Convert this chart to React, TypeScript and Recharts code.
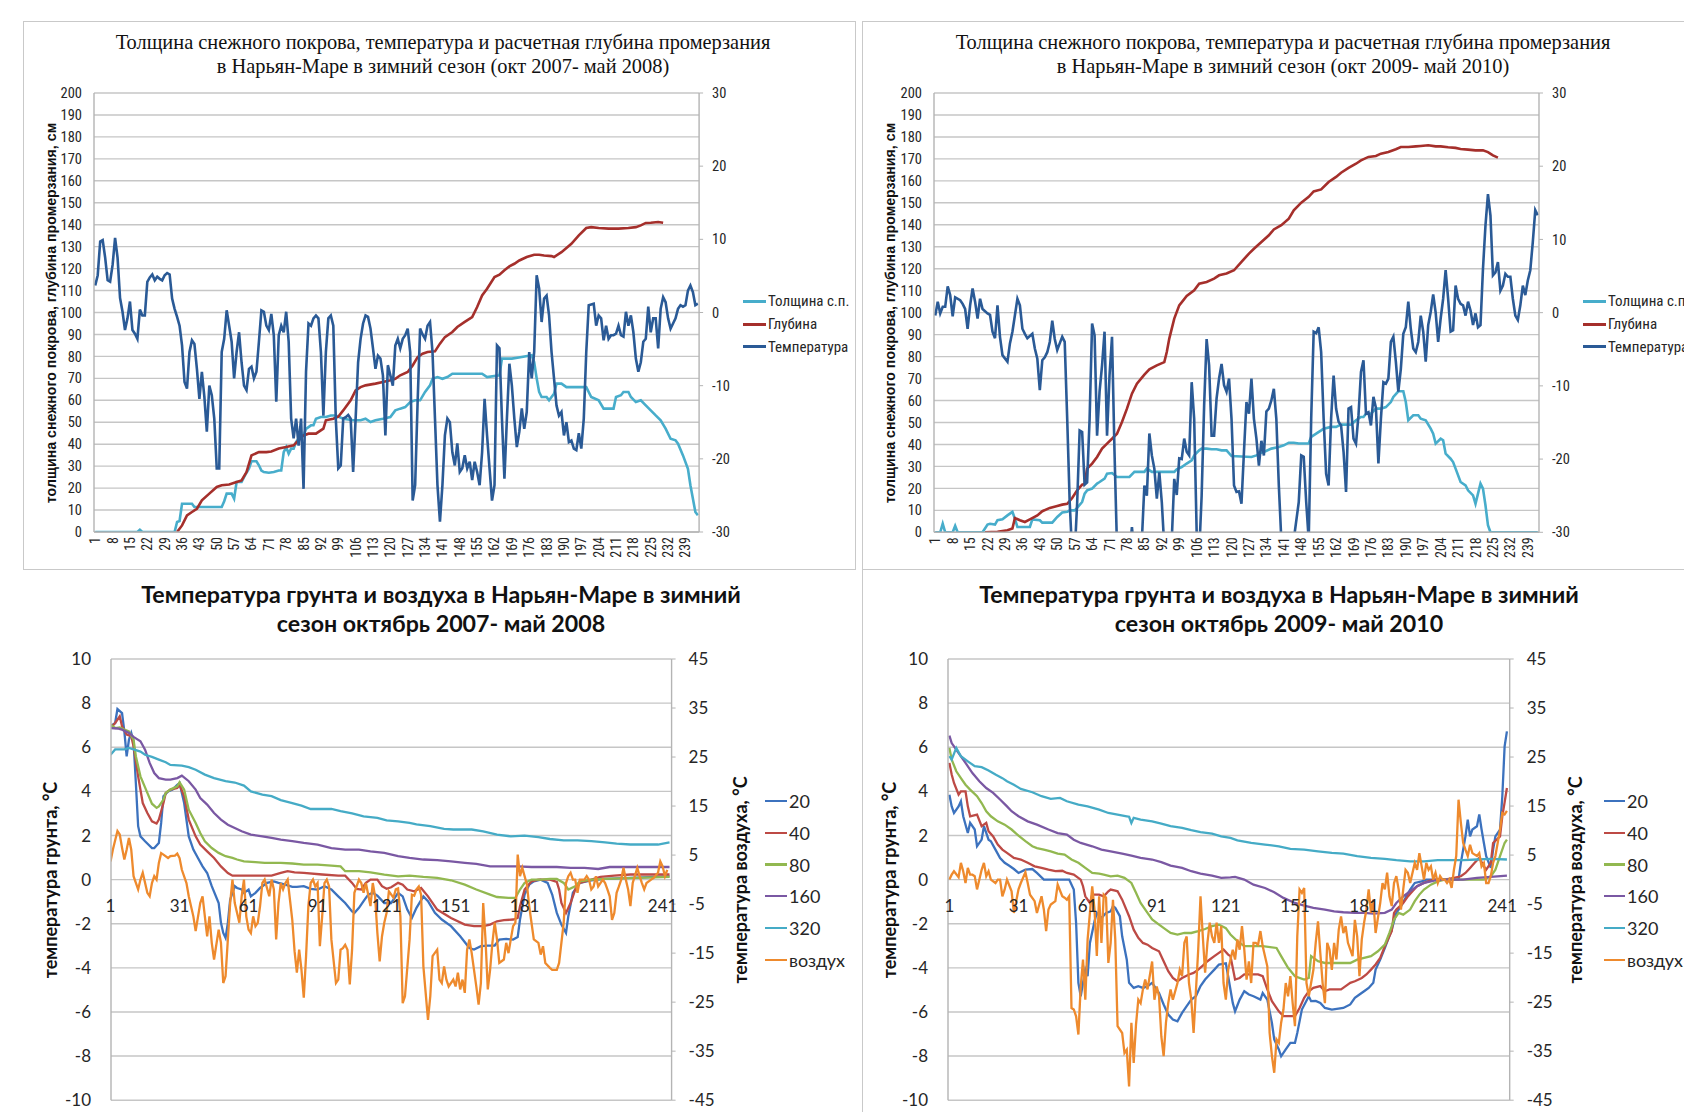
import React from 'react';
import { LineChart, Line, XAxis, YAxis, CartesianGrid, ReferenceDot } from 'recharts';

type Pt = [number, number];

// ---------------- axis / tick labels ----------------
const topDayTicks = [1, 8, 15, 22, 29, 36, 43, 50, 57, 64, 71, 78, 85, 92, 99, 106, 113, 120, 127, 134, 141, 148, 155, 162, 169, 176, 183, 190, 197, 204, 211, 218, 225, 232, 239];
const bottomDayTicks = [1, 31, 61, 91, 121, 151, 181, 211, 241];
const cmTicks = [0, 10, 20, 30, 40, 50, 60, 70, 80, 90, 100, 110, 120, 130, 140, 150, 160, 170, 180, 190, 200];
const airTicksTop = [-30, -20, -10, 0, 10, 20, 30];
const groundTicks = [-10, -8, -6, -4, -2, 0, 2, 4, 6, 8, 10];
const airTicksBottom = [-45, -35, -25, -15, -5, 5, 15, 25, 35, 45];

const topNames = ['Толщина с.п.', 'Глубина', 'Температура'];
const bottomNames = ['20', '40', '80', '160', '320', 'воздух'];

const titleTL = ['Толщина снежного покрова, температура и расчетная глубина промерзания', 'в Нарьян-Маре в зимний сезон (окт 2007- май 2008)'];
const titleTR = ['Толщина снежного покрова, температура и расчетная глубина промерзания', 'в Нарьян-Маре в зимний сезон (окт 2009- май 2010)'];
const titleBL = ['Температура грунта и воздуха в Нарьян-Маре в зимний', 'сезон октябрь 2007- май 2008'];
const titleBR = ['Температура грунта и воздуха в Нарьян-Маре в зимний', 'сезон октябрь 2009- май 2010'];
const topAxisTitle = 'толщина снежного покрова, глубина промерзания, см';
const groundAxisTitle = 'температура грунта, °C';
const airAxisTitle = 'температура воздуха, °C';

// ---------------- 2007-2008: snow, depth, air temperature ----------------
const snow0708: Pt[] = [[1,0],[18,0],[19,1],[20,0],[33,0],[34,4.6],[35,5],[36,12.9],[38,12.9],[40,12.9],[41,11.4],[52,11.4],[53,14],[54,17.5],[56,17.5],[57,15.2],[58,22.8],[60,22.8],[61,25],[62,27],[63,28.9],[64,32.2],[66,32.2],[67,30.4],[68,28],[69,27.3],[71,27],[73,27.3],[75,28],[76,28],[77,36.4],[78,38.7],[79,35.7],[80,38],[81,38],[82,41],[83,42.5],[85,44],[86,47],[88,48.6],[89,48.6],[90,51.6],[92,52.4],[94,52.4],[96,53.1],[98,53.1],[101,51.6],[105,50.9],[108,50.9],[110,51.6],[112,50.1],[114,50.9],[117,51.6],[120,52.4],[122,55.4],[124,56.2],[126,56.9],[128,59.2],[130,60],[132,60],[134,63.8],[136,66.8],[137,69.8],[139,70.6],[141,69.8],[143,70.6],[145,72.1],[157,72.1],[159,70.6],[164,71.4],[165,79],[169,79],[173,79.7],[177,80.5],[178,77.4],[179,70],[180,63.8],[181,61.5],[183,61.5],[184,60],[186,63],[187,67.6],[189,67.6],[191,66],[199,66],[201,61.5],[204,60],[206,56.2],[210,56.2],[211,61.5],[213,62.3],[214,63.8],[216,63.8],[217,61.5],[219,59.2],[221,60],[223,57.7],[225,55.4],[227,53.1],[229,50.9],[231,47.1],[233,42.5],[235,41.8],[236,40.2],[238,34.9],[240,28.8],[241,21.3],[243,9.1],[244,7.6]];

const depth0708: Pt[] = [[34,0],[36,3],[38,7.6],[40,9.1],[42,10.6],[44,14.4],[47,17.5],[50,20.5],[52,21.3],[55,21.6],[58,22.8],[60,23.5],[62,27.3],[64,34.9],[67,36.4],[70,36.4],[72,36.7],[75,38],[78,38.7],[81,39.5],[83,41.8],[85,44],[87,44.8],[90,44.8],[93,47.1],[94,50.9],[97,51.6],[99,52.5],[101,55.4],[104,60],[106,64.5],[108,66],[110,66.8],[114,67.6],[117,68.3],[120,69.1],[122,69.8],[124,71.4],[127,72.9],[129,75.9],[131,79.7],[133,81.2],[135,82],[138,82.3],[140,85.8],[142,88.8],[145,91.1],[147,93.4],[150,95.7],[153,97.9],[155,102.5],[157,107.8],[159,110.8],[162,116.2],[164,117.2],[166,119.2],[168,121],[170,122.2],[172,123.7],[175,125.3],[178,126.3],[180,126.3],[182,126],[185,125.7],[186,125.3],[189,127.5],[193,131.3],[196,135.1],[199,138.5],[201,138.9],[204,138.5],[208,138.2],[212,138.2],[216,138.5],[219,138.9],[221,139.7],[223,140.8],[225,140.9],[228,141.2],[230,140.9]];

const temp0708: Pt[] = [[1,3.7],[2,5.1],[3,9.7],[4,9.9],[5,7.5],[6,4.4],[7,4.2],[8,6.5],[9,10.2],[10,7.5],[11,2],[12,0.1],[13,-2.4],[14,-0.8],[15,1.5],[16,-2.4],[17,-2.9],[18,-3.6],[19,0.4],[20,-0.4],[21,-0.4],[22,4.2],[23,4.8],[24,5.2],[25,4.4],[26,4.9],[27,4.6],[28,4.4],[29,5.1],[30,5.4],[31,5.2],[32,1.9],[33,0.5],[34,-0.6],[35,-1.8],[36,-4.5],[37,-9.5],[38,-10.4],[39,-5.4],[40,-3.8],[41,-4.3],[42,-7.7],[43,-11.8],[44,-8.1],[45,-11.5],[46,-16.3],[47,-10],[48,-11.3],[49,-14.5],[50,-21.3],[51,-21.3],[52,-5.4],[53,-3.6],[54,0.3],[55,-1.8],[56,-4],[57,-9],[58,-5.4],[59,-2.7],[60,-6.8],[61,-10],[62,-10.6],[63,-7.7],[64,-7.4],[65,-9],[66,-8.1],[67,-4],[68,0.3],[69,0.1],[70,-1.8],[71,-2.4],[72,-0.2],[73,-3.1],[74,-12.2],[75,-3.1],[76,-1.8],[77,-2.7],[78,0.1],[79,-4],[80,-14.5],[81,-17.2],[82,-14.5],[83,-18.2],[84,-14.5],[85,-24.1],[86,-8.1],[87,-1.5],[88,-1.8],[89,-0.8],[90,-0.4],[91,-0.8],[92,-5.4],[93,-14.1],[94,-5.4],[95,-0.8],[96,-0.4],[97,-1.8],[98,-14.5],[99,-21.3],[100,-20.9],[101,-14.5],[102,-14.3],[103,-14],[104,-14.5],[105,-21.8],[106,-14.5],[107,-6.8],[108,-3.6],[109,-1.5],[110,-0.4],[111,-0.6],[112,-2.2],[113,-4.9],[114,-7.7],[115,-5.9],[116,-6.3],[117,-8.6],[118,-16.8],[119,-7.2],[120,-8.6],[121,-10],[122,-4.5],[123,-3.6],[124,-4.9],[125,-3.6],[126,-3.1],[127,-2.2],[128,-5.4],[129,-25.7],[130,-23.6],[131,-12.2],[132,-2.2],[133,-3],[134,-3.6],[135,-1.8],[136,-1.3],[137,-5.4],[138,-14.5],[139,-23.6],[140,-28.6],[141,-23.6],[142,-16.8],[143,-14.5],[144,-15],[145,-19.1],[146,-20.9],[147,-17.9],[148,-21.8],[149,-21.3],[150,-19.5],[151,-21.3],[152,-20.4],[153,-22.9],[154,-20.4],[155,-21.8],[156,-23.6],[157,-19.1],[158,-11.8],[159,-16.8],[160,-21.3],[161,-25.7],[162,-23.6],[163,-4.5],[164,-4.9],[165,-14.5],[166,-22.7],[167,-14.5],[168,-7],[169,-10],[170,-14.5],[171,-18.4],[172,-16.3],[173,-13.1],[174,-15.9],[175,-13.6],[176,-5.4],[177,-9],[178,-5.4],[179,5.1],[180,3.3],[181,-1.3],[182,1.9],[183,2.3],[184,-0.4],[185,-5.4],[186,-9],[187,-12.7],[188,-14.1],[189,-13.6],[190,-16.8],[191,-15],[192,-17.7],[193,-17.5],[194,-18.6],[195,-18.8],[196,-16.5],[197,-18.6],[198,-14.5],[199,-5.4],[200,1],[201,1.1],[202,1.2],[203,-1.8],[204,-0.4],[205,-0.8],[206,-3.8],[207,-1.8],[208,-3.6],[209,-3.1],[210,-3.1],[211,-2.9],[212,-1.8],[213,-3.1],[214,-3.3],[215,0.1],[216,-1.8],[217,-0.4],[218,-2.7],[219,-6.3],[220,-8.1],[221,-6.8],[222,-4],[223,-3.6],[224,0.8],[225,-2.7],[226,-0.8],[227,-0.8],[228,-4.9],[229,0.5],[230,2.1],[231,1.4],[232,-0.8],[233,-2.2],[234,-1.5],[235,-0.8],[236,0.5],[237,1],[238,0.8],[239,1],[240,3],[241,3.7],[242,2.8],[243,1],[244,1.2]];

// ---------------- 2009-2010: snow, depth, air temperature ----------------
const snow0910: Pt[] = [[1,0],[3,0],[4,3.9],[5,0],[8,0],[9,2.9],[10,0],[20,0],[22,3.5],[23,3.9],[25,3.5],[26,5.5],[28,5.9],[30,7.7],[32,9.3],[33,6.2],[34,2.4],[39,2.4],[40,5.9],[43,5.5],[44,4.4],[48,4.4],[50,7],[52,9],[54,9.3],[55,10],[57,10],[58,11.1],[60,13.8],[61,17.6],[62,19.1],[64,19.9],[66,22.2],[67,22.9],[69,24.4],[70,26.7],[72,27],[74,25.2],[79,25.2],[81,27.5],[85,27.5],[86,29],[88,27.5],[97,27.5],[98,28.7],[100,29.7],[102,31.3],[104,32.8],[105,35],[107,37.3],[108,38.1],[110,38.1],[112,37.8],[114,37.8],[116,37.3],[118,37.3],[120,34.7],[128,34.3],[130,35],[132,36.3],[133,36.6],[136,38.1],[139,38.8],[141,39.6],[143,40.8],[145,40.8],[147,40.4],[151,40.4],[152,43.4],[154,44.9],[156,46.4],[157,47.2],[160,48],[162,48],[164,49],[168,49],[170,51],[172,52.5],[173,52.5],[174,54],[176,54],[178,56.3],[180,56.3],[182,57],[184,59.3],[185,61.6],[187,64.2],[189,64.2],[190,59.3],[191,51],[193,53.3],[195,53.3],[196,51.7],[198,51],[200,47.2],[201,44.9],[202,40.4],[204,42.6],[205,41.9],[206,35.8],[208,33.5],[209,32],[210,29],[212,22.9],[214,21.4],[215,19.1],[217,16.8],[218,13],[219,17.6],[220,22.2],[221,19.9],[222,12.3],[223,3.2],[224,0],[243,0]];

const depth0910: Pt[] = [[21,0],[26,0.2],[30,0.9],[32,1.7],[33,6.5],[35,5.5],[37,4.7],[39,5.9],[42,7.7],[44,9.6],[47,11.1],[50,12],[52,12.6],[54,13],[56,15.6],[58,19.1],[60,21.7],[61,22],[62,29],[64,31.3],[66,34.3],[68,38.1],[70,40.4],[72,42.6],[74,44.9],[76,50.2],[78,56.3],[80,63.1],[82,67.7],[85,71.8],[87,74.2],[90,76],[93,77.5],[94,82.1],[95,88.2],[97,97.3],[99,103.3],[102,107.6],[105,110.2],[107,113.2],[110,114],[113,115.5],[115,117],[118,117.8],[121,119.3],[124,123.1],[127,126.9],[129,129.1],[132,132.2],[135,135.2],[137,137.9],[140,139.8],[143,142.8],[145,146.6],[148,150.1],[151,152.7],[153,155.2],[156,156.1],[159,159.5],[162,161.8],[164,163.7],[167,165.9],[170,167.8],[172,169.3],[175,170.9],[178,171.3],[180,172.4],[183,173.1],[186,174.4],[188,175.4],[191,175.4],[194,175.7],[196,175.9],[199,176.2],[202,175.7],[204,175.7],[207,175.3],[210,175],[212,174.5],[215,174.2],[218,173.9],[221,173.9],[223,173.1],[225,171.6],[227,170.6]];

const temp0910: Pt[] = [[1,-0.4],[2,1.5],[3,-0.1],[4,0.8],[5,0.8],[6,3.6],[7,2.4],[8,-0.5],[9,2.1],[11,1.7],[12,1.2],[13,0.5],[14,-2.2],[15,1],[16,3.3],[17,1.5],[18,-0.8],[19,1.9],[20,0.5],[22,-0.1],[23,-0.3],[24,-2.6],[25,-3.5],[26,1],[27,-3.3],[28,-5.8],[30,-6.7],[31,-4.2],[32,-2.6],[34,1.9],[35,1],[36,-2.2],[37,-2.9],[38,-3.5],[40,-2.9],[41,-4.9],[42,-6.3],[43,-10.6],[44,-6.5],[45,-6.1],[46,-5.4],[47,-4],[48,-1.1],[49,-3.6],[50,-5.1],[51,-4.2],[52,-3.3],[53,-4],[54,-14.5],[55,-25.9],[56,-33],[57,-33],[58,-26],[59,-16.1],[60,-16.3],[61,-23.5],[62,-23.2],[63,-14.5],[64,-1.5],[65,-3.1],[66,-16.8],[67,-10.8],[68,-7.2],[69,-2.6],[70,-16.8],[71,-8.6],[72,-3.3],[73,-19],[74,-32],[76,-36],[78,-33],[79,-33],[80,-29.3],[81,-33],[83,-34],[84,-31],[85,-23.6],[86,-25],[87,-16.5],[88,-19.5],[89,-21.3],[90,-25.4],[91,-21.8],[92,-25.9],[93,-32],[95,-34],[96,-31],[97,-22.7],[98,-24.9],[99,-19.9],[100,-20],[101,-17.2],[102,-19],[103,-19.5],[104,-9.5],[105,-14.5],[106,-30],[107,-33],[108,-25],[109,-12.7],[110,-3.6],[111,-7.2],[112,-16.8],[113,-16.8],[114,-11.7],[115,-9],[116,-7],[117,-9.9],[118,-10.8],[119,-9],[120,-14.5],[121,-23.6],[122,-24.5],[123,-24.4],[124,-26.1],[125,-19],[126,-12.2],[127,-13.8],[128,-9],[129,-14.5],[130,-17.2],[131,-20.9],[132,-17.5],[133,-19.5],[134,-13.5],[135,-13.1],[136,-12],[137,-10.4],[138,-14.5],[139,-23.6],[140,-31],[142,-34],[144,-34],[145,-31],[147,-25.9],[148,-19.5],[149,-19.7],[150,-25.9],[151,-31],[152,-14.5],[153,-2.6],[154,-2.8],[155,-2],[156,-5.4],[157,-14.5],[158,-22],[159,-23.6],[160,-14.5],[161,-8.6],[162,-13.1],[163,-14.9],[164,-15.4],[165,-19],[166,-24.5],[167,-13.1],[168,-12.9],[169,-17.2],[170,-17.9],[171,-14],[172,-8.1],[173,-6.5],[174,-13.8],[175,-13.6],[176,-15.4],[177,-11.5],[178,-13],[179,-20.6],[180,-14.5],[181,-9.5],[182,-9.7],[183,-9],[184,-4],[185,-3.3],[186,-6.7],[187,-10.8],[188,-7.7],[189,-2.9],[190,-2],[191,1.5],[192,-2.2],[193,-4.9],[194,-5.4],[195,-4],[196,-0.4],[197,-2.6],[198,-6.7],[199,-1.7],[200,0.1],[201,2.5],[202,0],[203,-4],[204,-0.8],[205,1.9],[206,5.8],[207,1.9],[208,-2.6],[209,-2.4],[210,3.7],[211,1.9],[212,1.2],[213,1],[214,-0.4],[215,1.5],[216,0.3],[217,-1.7],[218,-0.1],[219,-2],[220,-1.7],[221,6],[222,11.9],[223,16.2],[224,13.3],[225,5.1],[226,5.5],[227,6.9],[228,3],[229,3.7],[230,5.3],[231,4.9],[232,4.9],[233,1.9],[234,-0.4],[235,-1],[236,1],[237,3.7],[238,2.4],[239,4.4],[240,5.8],[241,9.6],[242,14],[243,13.3]];

// ---------------- ground & air temperature 2007-2008 ----------------
const g20_0708: Pt[] = [[1,6.95],[3,7.1],[4,7.73],[6,7.55],[7,6.72],[8,5.59],[9,6.34],[10,6.65],[11,6.27],[12,4.38],[13,2.42],[14,1.96],[16,1.74],[19,1.43],[20,1.43],[22,1.66],[23,2.57],[24,3.78],[26,4],[28,4.08],[30,4.3],[31,4.38],[33,3.47],[35,1.96],[37,1.36],[39,0.98],[41,0.6],[43,0.3],[45,-0.3],[48,-1.06],[49,-1.96],[50,-2.42],[51,-2.64],[52,-1.96],[53,-0.91],[55,-0.3],[56,-0.38],[58,-0.45],[59,-0.6],[61,-0.45],[62,-0.76],[64,-0.6],[66,-0.38],[69,-0.15],[72,-0.08],[74,-0.15],[77,-0.23],[80,-0.33],[82,-0.33],[85,-0.3],[88,-0.42],[91,-0.45],[94,-0.3],[97,-0.45],[100,-0.76],[103,-1.06],[106,-1.44],[107,-1.51],[109,-1.28],[111,-0.98],[113,-0.68],[115,-0.6],[117,-0.73],[120,-1.06],[123,-1.06],[126,-0.6],[128,-0.76],[130,-1.36],[132,-1.74],[134,-1.28],[137,-0.76],[139,-0.98],[142,-1.51],[145,-1.81],[149,-2.11],[153,-2.57],[157,-3.1],[159,-3.17],[162,-3.02],[165,-2.99],[168,-2.99],[170,-2.72],[173,-2.69],[176,-2.72],[178,-2.6],[179,-1.81],[181,-0.68],[183,-0.23],[185,-0.08],[188,0],[191,-0.15],[193,-0.68],[195,-1.51],[197,-2.04],[199,-2.42],[200,-1.66],[202,-0.6],[205,-0.15],[210,-0.03],[216,0.03],[227,0.08],[244,0.15]];
const g40_0708: Pt[] = [[1,6.87],[3,7.1],[5,7.4],[6,6.95],[8,6.57],[10,6.5],[11,6.04],[13,4.68],[15,3.47],[17,3.02],[19,2.64],[21,2.54],[22,2.72],[24,3.47],[25,3.93],[27,4.08],[30,4.15],[31,4.3],[33,3.78],[35,2.72],[38,1.96],[40,1.59],[43,1.28],[46,0.98],[49,0.6],[52,0.3],[54,0.18],[65,0.18],[71,0.18],[75,0.3],[78,0.38],[81,0.33],[85,0.3],[93,0.23],[100,0.18],[103,0.18],[106,-0.15],[108,-0.42],[110,-0.45],[112,-0.15],[114,0],[117,0],[119,-0.3],[121,-0.42],[123,-0.35],[126,-0.15],[128,-0.23],[130,-0.45],[133,-0.53],[136,-0.38],[139,-0.76],[143,-1.36],[149,-1.74],[155,-2.04],[159,-2.11],[163,-2.11],[166,-2.04],[169,-1.89],[172,-1.84],[176,-1.81],[178,-1.74],[179,-1.21],[181,-0.45],[184,-0.08],[187,0],[192,0],[195,-0.1],[196,-0.45],[197,-1.06],[199,-1.51],[201,-1.06],[203,-0.45],[205,-0.15],[210,0],[214,0.12],[220,0.18],[227,0.23],[244,0.23]];
const g80_0708: Pt[] = [[1,7.02],[3,6.87],[5,6.9],[7,6.8],[9,6.72],[11,6.34],[12,5.59],[14,4.68],[17,3.93],[19,3.44],[21,3.25],[22,3.32],[24,3.63],[25,3.93],[27,4.08],[30,4.23],[31,4.41],[33,4.08],[35,3.17],[38,2.57],[40,2.11],[42,1.74],[45,1.43],[48,1.21],[51,1.06],[54,0.98],[56,0.91],[59,0.83],[64,0.79],[68,0.76],[75,0.76],[80,0.73],[85,0.68],[91,0.68],[97,0.63],[101,0.6],[103,0.38],[109,0.38],[114,0.33],[120,0.23],[126,0.15],[131,0.18],[137,0.12],[143,0.08],[149,-0.03],[155,-0.23],[160,-0.45],[166,-0.68],[169,-0.79],[174,-0.83],[177,-0.83],[179,-0.45],[181,-0.15],[184,0],[188,0],[192,0.03],[195,0.03],[198,-0.15],[200,-0.45],[203,-0.3],[205,-0.08],[210,0],[216,0.03],[244,0.12]];
const g160_0708: Pt[] = [[1,6.87],[4,6.85],[6,6.8],[9,6.65],[11,6.47],[14,6.27],[16,5.89],[18,5.29],[20,4.83],[22,4.6],[25,4.53],[27,4.53],[30,4.6],[32,4.71],[35,4.46],[38,4.08],[40,3.7],[43,3.4],[46,3.02],[49,2.72],[52,2.49],[55,2.34],[58,2.19],[62,2.04],[67,1.96],[71,1.89],[75,1.81],[80,1.74],[85,1.66],[91,1.59],[97,1.43],[103,1.36],[109,1.36],[114,1.28],[120,1.21],[126,1.06],[131,0.98],[137,0.91],[143,0.88],[149,0.83],[155,0.76],[160,0.71],[166,0.6],[178,0.6],[184,0.57],[195,0.57],[201,0.53],[207,0.53],[213,0.48],[218,0.57],[244,0.57]];
const g320_0708: Pt[] = [[1,5.66],[3,5.9],[5,5.9],[7,5.9],[9,5.97],[11,5.9],[14,5.8],[16,5.66],[19,5.56],[22,5.44],[25,5.32],[27,5.2],[32,5.17],[35,5.1],[38,4.98],[42,4.76],[46,4.6],[51,4.46],[55,4.4],[59,4.26],[62,4],[67,3.85],[71,3.78],[75,3.6],[80,3.47],[84,3.35],[88,3.2],[97,3.2],[101,3.1],[106,3],[111,2.87],[117,2.8],[121,2.68],[126,2.64],[131,2.57],[134,2.5],[140,2.42],[146,2.3],[150,2.27],[158,2.27],[163,2.19],[169,2.04],[175,1.96],[181,1.99],[187,1.93],[192,1.84],[198,1.78],[204,1.78],[210,1.74],[216,1.69],[221,1.63],[227,1.59],[239,1.59],[244,1.69]];
const air0708: Pt[] = [[1,3.7],[2,6.1],[4,9.9],[5,9.2],[6,6.5],[7,4.1],[8,6.1],[9,8.5],[10,6.1],[11,0.7],[13,-2],[14,0],[15,1.4],[17,-2.7],[18,-3.4],[19,-0.7],[20,0.7],[21,0],[22,3.4],[23,5.4],[24,5.1],[26,4.4],[27,4.8],[29,4.9],[30,5.3],[31,4.4],[32,2],[34,-0.7],[35,-3.4],[37,-7.5],[38,-10.5],[40,-4.8],[41,-3.4],[42,-7.5],[43,-11.6],[44,-7.5],[45,-12.9],[46,-16.3],[48,-10.2],[49,-12.9],[50,-21.1],[51,-19.7],[52,-12.2],[53,-4.8],[54,0],[55,-4.8],[57,-8.8],[58,-3.4],[59,0],[60,-7.5],[61,-10.2],[62,-10.9],[63,-7.5],[64,-9.5],[65,-8.8],[66,-5.4],[67,-0.7],[68,0],[70,-3.4],[71,0],[72,-2],[73,-12.2],[74,-4.8],[75,-0.7],[76,-2],[77,-0.7],[78,0],[80,-8.2],[81,-14.6],[82,-19],[83,-14.3],[84,-18.4],[85,-24.1],[86,-15.6],[87,-5.4],[88,-0.7],[89,0],[90,-1.4],[91,-0.7],[92,-13.6],[93,-7.5],[94,-0.7],[95,0],[96,-1.4],[97,-12.2],[99,-21.1],[100,-20.4],[101,-14.3],[102,-14],[103,-13.3],[104,-14.3],[105,-21.4],[106,-14.3],[107,-2.7],[109,0],[110,-0.7],[111,-2.7],[112,-0.7],[114,-5.4],[115,-0.7],[116,-3.4],[117,-10.9],[118,-16.7],[119,-11.6],[120,-8.8],[121,-6.8],[122,-2.4],[124,-3.7],[125,-2],[126,-1.8],[127,-7.5],[128,-25.2],[129,-23.8],[131,-12.2],[132,-3.1],[133,-3.3],[134,-2],[135,-1.4],[136,-3.1],[137,-17.7],[139,-28.6],[140,-23.8],[141,-15.6],[143,-14.3],[144,-20.4],[145,-21.1],[146,-17.7],[147,-20.4],[148,-21.8],[150,-20.4],[151,-21.8],[152,-19],[153,-22.4],[154,-20.4],[155,-23.1],[156,-14.3],[157,-12.2],[158,-15],[160,-21.8],[161,-25.5],[162,-21.1],[163,-4.8],[164,-12.2],[165,-22.4],[166,-18.4],[167,-12.9],[168,-8.8],[169,-12.2],[170,-17],[172,-16.3],[173,-12.9],[174,-15],[175,-12.2],[176,-9.5],[177,-8.8],[178,5.1],[179,0.7],[180,2.4],[182,-1],[183,-5.4],[184,-8.8],[185,-12.2],[187,-12.9],[188,-15.3],[189,-13.6],[190,-17],[192,-18],[193,-18.4],[195,-18.4],[196,-17],[198,-8.8],[199,-0.7],[200,0.7],[201,1.4],[202,0],[203,0],[204,-2.7],[205,0],[207,0],[208,0.7],[209,0],[210,-2],[211,-1.4],[212,0.7],[213,-1.4],[215,0],[216,-0.7],[217,-2],[218,-3.4],[219,-8.2],[220,-6.8],[221,-2.7],[222,-1.4],[223,0],[224,2.4],[225,0],[226,-2],[227,-5.4],[228,-0.7],[230,2.4],[231,0.7],[232,-0.7],[233,-2],[234,-0.7],[236,0],[237,0.3],[239,1.4],[240,3.7],[241,2.7],[242,0.7],[243,2]];

// ---------------- ground & air temperature 2009-2010 ----------------
const g20_0910: Pt[] = [[1,3.85],[2,3.32],[3,3.02],[5,3.32],[6,3.55],[7,2.87],[9,2.11],[10,2.57],[12,2.27],[13,1.51],[15,1.81],[16,2.42],[18,1.81],[19,1.74],[21,1.36],[23,0.98],[25,0.76],[27,0.63],[29,0.48],[31,0.3],[34,0.45],[37,0.48],[39,0.3],[42,0],[53,0],[55,-0.45],[56,-1.96],[57,-4.68],[58,-5.29],[60,-4.08],[61,-4.38],[62,-2.87],[64,-1.89],[65,-1.51],[67,-1.74],[69,-1.51],[71,-1.44],[72,-1.21],[73,-1.28],[75,-1.66],[76,-2.57],[78,-3.63],[79,-4.68],[81,-4.91],[83,-4.83],[85,-4.91],[87,-4.83],[89,-4.68],[92,-5.14],[94,-5.66],[96,-6.12],[98,-6.34],[100,-6.42],[102,-6.04],[104,-5.74],[106,-5.44],[108,-5.29],[110,-4.83],[112,-4.53],[114,-4.3],[116,-4.08],[118,-3.85],[121,-3.8],[122,-4.38],[124,-5.59],[125,-5.97],[127,-5.44],[129,-5.06],[131,-5.21],[133,-5.29],[136,-5.44],[137,-5.14],[139,-5.44],[141,-6.5],[142,-7.25],[144,-7.7],[145,-8.01],[147,-7.7],[149,-7.4],[151,-7.4],[152,-6.95],[154,-5.89],[157,-5.29],[158,-5.51],[160,-5.5],[162,-5.59],[164,-5.82],[167,-5.89],[172,-5.82],[175,-5.66],[177,-5.36],[179,-5.21],[181,-5.06],[183,-4.91],[185,-4.68],[186,-4.08],[188,-3.63],[190,-3.1],[193,-2.27],[195,-1.51],[197,-1.21],[199,-0.83],[201,-0.45],[203,-0.15],[206,-0.08],[208,0],[222,0],[223,0.76],[225,1.96],[226,2.72],[227,1.96],[228,2.27],[230,2.42],[231,2.95],[232,2.27],[233,1.66],[234,1.06],[236,0.53],[237,1.36],[238,1.96],[240,2.27],[241,3.78],[242,6.04],[243,6.72]];
const g40_0910: Pt[] = [[1,5.29],[2,4.76],[3,4.38],[5,3.85],[6,4],[8,4],[9,3.32],[10,2.87],[13,2.95],[15,2.42],[17,2.57],[18,2.19],[20,1.96],[22,1.59],[24,1.36],[26,1.21],[29,0.98],[32,0.91],[35,0.76],[38,0.6],[41,0.53],[44,0.45],[47,0.38],[50,0.4],[52,0.3],[55,0.23],[58,0],[59,-0.3],[60,-0.76],[62,-1.06],[63,-0.68],[66,-0.68],[68,-0.76],[70,-0.53],[71,-0.45],[73,-0.5],[74,-0.53],[76,-0.91],[79,-1.66],[81,-2.27],[83,-2.64],[85,-2.87],[87,-2.95],[89,-3.1],[92,-3.25],[94,-3.7],[96,-4.15],[98,-4.46],[100,-4.61],[102,-4.46],[105,-4.3],[107,-4.23],[109,-4.08],[111,-3.9],[113,-3.7],[116,-3.47],[118,-3.32],[120,-3.17],[122,-3.4],[123,-3.47],[125,-4.53],[127,-4.46],[129,-4.3],[135,-4.3],[137,-4.38],[139,-4.98],[141,-5.51],[144,-5.97],[146,-6.19],[151,-6.19],[153,-5.82],[155,-5.36],[157,-5.06],[159,-4.91],[162,-4.83],[164,-5.06],[166,-4.98],[171,-4.98],[173,-4.83],[175,-4.68],[177,-4.61],[180,-4.46],[182,-4.3],[184,-4.08],[186,-3.85],[188,-3.55],[190,-3.02],[193,-2.34],[194,-1.51],[195,-1.36],[198,-1.06],[200,-0.76],[202,-0.53],[204,-0.3],[207,-0.15],[211,0],[216,0],[220,0.08],[223,0.15],[225,0.3],[227,0.53],[229,0.76],[231,0.98],[233,0.6],[234,0.45],[236,0.76],[237,1.66],[240,1.96],[241,2.87],[242,3.5],[243,4.15]];
const g80_0910: Pt[] = [[1,5.97],[2,5.44],[4,4.91],[6,4.6],[8,4.3],[10,4.08],[13,3.78],[15,3.47],[17,3.1],[19,2.87],[22,2.64],[25,2.49],[28,2.27],[31,1.99],[34,1.74],[37,1.51],[39,1.43],[42,1.36],[45,1.28],[48,1.18],[51,1.13],[54,0.91],[57,0.76],[60,0.53],[63,0.3],[66,0.27],[68,0.23],[71,0.15],[74,0.18],[77,0.08],[80,-0.15],[82,-0.6],[84,-1.06],[87,-1.51],[89,-1.81],[92,-2.04],[95,-2.27],[97,-2.42],[100,-2.49],[103,-2.42],[106,-2.42],[109,-2.34],[112,-2.24],[115,-2.11],[118,-2.04],[121,-2.2],[123,-2.49],[126,-2.79],[129,-3.02],[137,-3.02],[143,-3.1],[145,-3.47],[148,-4],[151,-4.38],[155,-4.53],[157,-4.46],[158,-3.47],[161,-3.7],[164,-3.78],[175,-3.78],[178,-3.63],[181,-3.55],[184,-3.47],[187,-3.25],[190,-2.95],[192,-2.42],[194,-1.81],[196,-1.51],[198,-1.59],[201,-1.36],[203,-0.98],[205,-0.68],[207,-0.45],[210,-0.23],[213,-0.08],[216,0],[233,0],[236,0.15],[238,0.45],[240,1.06],[242,1.66],[243,1.81]];
const g160_0910: Pt[] = [[1,6.53],[2,6.19],[5,5.74],[8,5.29],[11,4.83],[14,4.46],[17,4.15],[20,3.93],[23,3.63],[26,3.32],[28,3.1],[31,2.87],[35,2.64],[39,2.49],[44,2.27],[48,2.11],[52,2.04],[55,1.81],[58,1.66],[63,1.51],[67,1.36],[71,1.28],[76,1.18],[80,1.09],[84,0.98],[89,0.91],[93,0.79],[97,0.63],[102,0.53],[106,0.38],[110,0.27],[115,0.18],[119,0.08],[123,0.1],[125,0.12],[129,0],[133,-0.23],[138,-0.38],[142,-0.57],[146,-0.83],[151,-1.06],[155,-1.18],[159,-1.28],[164,-1.36],[168,-1.44],[172,-1.48],[177,-1.51],[181,-1.51],[185,-1.54],[190,-1.51],[193,-1.36],[195,-1.06],[198,-0.76],[201,-0.53],[204,-0.3],[207,-0.15],[210,-0.08],[213,0],[224,0],[230,0.08],[236,0.12],[243,0.18]];
const g320_0910: Pt[] = [[1,5.6],[2,5.44],[4,5.97],[6,5.59],[9,5.36],[12,5.14],[15,5.1],[18,4.95],[21,4.76],[24,4.6],[26,4.46],[29,4.3],[32,4.11],[37,3.96],[41,3.78],[45,3.66],[49,3.7],[52,3.55],[57,3.4],[61,3.32],[66,3.17],[70,3.02],[74,2.95],[78,2.87],[79,2.85],[80,2.57],[81,2.8],[84,2.72],[89,2.64],[93,2.54],[97,2.42],[102,2.34],[106,2.24],[110,2.15],[115,2.08],[119,1.96],[123,1.89],[126,1.78],[132,1.66],[138,1.59],[144,1.51],[149,1.39],[155,1.36],[161,1.28],[167,1.21],[172,1.18],[178,1.06],[184,0.98],[190,0.94],[195,0.88],[201,0.83],[207,0.83],[213,0.88],[224,0.88],[230,0.91],[236,0.94],[243,0.91]];
const air0910: Pt[] = [[1,0],[2,1],[3,1.7],[5,0.5],[6,3.4],[7,1.7],[8,-0.7],[9,2.4],[10,1],[11,1],[12,0.7],[13,-2],[15,2],[16,3.4],[17,0.7],[18,1.7],[19,0],[21,-0.7],[22,0],[23,0],[24,-3.4],[25,-2],[26,0],[28,-2.4],[29,-6.8],[31,-2],[32,-0.7],[34,1.5],[35,-0.7],[36,-3.1],[38,-4.4],[39,-6.8],[41,-3.4],[42,-6.1],[43,-10.5],[44,-6.1],[45,-5.1],[47,-4.4],[48,-1],[50,-3.4],[51,-3.7],[52,-4.1],[53,-3.4],[54,-26.2],[55,-26.5],[56,-27.9],[57,-31.6],[58,-21.8],[59,-16.3],[60,-24.5],[61,-12.2],[63,-1.4],[64,-6.1],[65,-15.6],[66,-3.4],[67,-12.9],[68,-3.1],[69,-3.7],[70,-17],[71,-12.9],[72,-4.1],[73,-12.2],[74,-29.9],[76,-31.3],[77,-35.4],[78,-34.7],[79,-42.2],[80,-29.2],[81,-37.4],[82,-29.6],[83,-24.5],[84,-25.2],[85,-22.4],[86,-20.4],[87,-22.4],[89,-16.7],[90,-24.5],[91,-21.8],[92,-23.8],[93,-32],[94,-36],[95,-29.2],[96,-25.2],[97,-22.4],[98,-24.5],[100,-21.1],[101,-18.4],[102,-19.7],[103,-12.9],[104,-11.6],[105,-21.1],[106,-24.5],[107,-31.3],[109,-14.3],[110,-3.4],[111,-11.6],[112,-19],[113,-12.9],[114,-8.8],[115,-11.6],[116,-12.9],[117,-8.8],[118,-12.9],[119,-9.5],[120,-21.1],[121,-24.5],[122,-18.4],[124,-14.3],[125,-16.3],[126,-12.2],[127,-14.3],[128,-9.5],[129,-14.3],[130,-20.4],[131,-16.7],[132,-21.1],[133,-12.9],[134,-12.9],[135,-13.3],[136,-10.5],[137,-13.6],[139,-17.7],[140,-31.3],[141,-36],[142,-39.4],[143,-32.6],[144,-33.3],[145,-29.2],[146,-26.5],[147,-21.1],[148,-23.8],[149,-19.7],[150,-25.2],[151,-29.9],[152,-11.6],[153,-2],[154,-2.7],[155,-1.7],[156,-21.1],[157,-23.8],[158,-21.1],[159,-18.4],[160,-12.9],[161,-8.5],[162,-15],[163,-21.1],[164,-25.2],[165,-12.9],[166,-14.3],[167,-18.4],[168,-12.9],[169,-16.3],[170,-10.2],[171,-7.5],[172,-10.9],[173,-9.5],[174,-12.9],[176,-15.6],[177,-8.2],[178,-11.6],[179,-19.7],[180,-12.2],[181,-8.8],[182,-6.1],[183,-2],[184,-6.8],[185,-4.1],[186,-10.9],[188,-4.8],[189,-0.7],[190,-2],[191,1.4],[192,-3.4],[193,-5.4],[194,-0.7],[195,0.7],[196,-2],[197,-6.1],[198,-2],[199,2],[200,1.4],[201,-0.7],[203,3.4],[204,2],[205,5.4],[206,2.7],[207,0],[208,3.4],[209,2],[210,2.7],[211,0],[212,1.4],[213,-0.7],[214,0.7],[215,0],[216,0],[217,-0.7],[218,0],[219,-1.7],[220,2],[221,4.8],[222,16.3],[223,11.6],[224,7.5],[225,6.1],[226,4.8],[227,7.1],[228,5.4],[230,4.8],[231,5.4],[232,2.7],[233,3.4],[234,-0.7],[235,-0.7],[236,0.7],[237,3.4],[238,4.8],[239,7.5],[240,10.2],[241,13.6],[242,13.3],[243,14]];

// ---------------- styles ----------------
const NARROW = "'Liberation Sans Narrow', 'Arial Narrow', 'Roboto Condensed', Roboto, sans-serif";
const SERIF = "'Liberation Serif', 'Times New Roman', serif";
const ARIAL = "'Liberation Sans', Arial, sans-serif";
const CAL = "Lato, 'Noto Sans', sans-serif";
const GRID = '#c6c6c6';
const AXIS = '#b4b4b4';
const TXT = '#262626';
const topColors = ['#47adcb', '#a52f2b', '#2a5a96'];
const bottomColors = ['#3c72be', '#bd4a45', '#92b850', '#7a58a3', '#45abc6', '#ee8a2d'];

const rows = (pts: Pt[]) => pts.map(([d, v]) => ({ d, v }));

type Rect = { x0: number; y0: number; x1: number; y1: number };

const RotTick = (props: any) => {
  const { x, y, payload } = props;
  return (
    <text x={x} y={y} transform={`rotate(-90 ${x} ${y})`} textAnchor="end" dominantBaseline="central"
      fontSize={14} fontFamily={NARROW} fill={TXT}>{payload.value}</text>
  );
};

function RotText({ cx, cy, text, style }: { cx: number; cy: number; text: string; style: React.CSSProperties }) {
  return (
    <div style={{ position: 'absolute', left: cx, top: cy, transform: 'translate(-50%, -50%) rotate(-90deg)', whiteSpace: 'nowrap', ...style }}>{text}</div>
  );
}

function Title({ cx, y, lines, style, lh }: { cx: number; y: number; lines: string[]; style: React.CSSProperties; lh: number }) {
  return (
    <div style={{ position: 'absolute', left: cx - 450, top: y, width: 900, textAlign: 'center', lineHeight: `${lh}px`, whiteSpace: 'nowrap', ...style }}>
      {lines.map((l, i) => <div key={i}>{l}</div>)}
    </div>
  );
}

function HtmlLegend({ x, ys, names, colors, lineLen, thick, style }: { x: number; ys: number[]; names: string[]; colors: string[]; lineLen: number; thick: number; style: React.CSSProperties }) {
  return (
    <>
      {names.map((n, i) => (
        <React.Fragment key={n}>
          <div style={{ position: 'absolute', left: x, top: ys[i] - thick / 2, width: lineLen, height: thick, background: colors[i] }} />
          <div style={{ position: 'absolute', left: x + lineLen + 2, top: ys[i] - 12, height: 24, lineHeight: '24px', whiteSpace: 'nowrap', ...style }}>{n}</div>
        </React.Fragment>
      ))}
    </>
  );
}

function TopChart({ plot, domain, snow, depth, temp }: { plot: Rect; domain: [number, number]; snow: Pt[]; depth: Pt[]; temp: Pt[] }) {
  const ml = 80, mr = 60, mt = 10, xh = 44;
  const width = plot.x1 - plot.x0 + ml + mr;
  const height = plot.y1 - plot.y0 + mt + xh;
  const tickStyle = { fontSize: 14.5, fontFamily: NARROW, fill: TXT };
  const series = [snow, depth, temp];
  const axes = ['cm', 'cm', 't'];
  return (
    <div style={{ position: 'absolute', left: plot.x0 - ml, top: plot.y0 - mt }}>
      <LineChart width={width} height={height} margin={{ top: mt, right: 0, bottom: 0, left: 0 }}>
        <CartesianGrid yAxisId="cm" vertical={false} stroke={GRID} strokeWidth={1.4} />
        <XAxis dataKey="d" type="number" domain={domain} allowDataOverflow ticks={topDayTicks} interval={0} height={xh}
          tick={RotTick} tickLine={false} tickSize={0} tickMargin={5} axisLine={{ stroke: AXIS, strokeWidth: 1.4 }} />
        <YAxis yAxisId="cm" orientation="left" width={ml} domain={[0, 200]} ticks={cmTicks} interval={0} allowDataOverflow
          tickLine={false} tickSize={0} tickMargin={12} axisLine={{ stroke: AXIS, strokeWidth: 1.4 }} tick={tickStyle} />
        <YAxis yAxisId="t" orientation="right" width={mr} domain={[-30, 30]} ticks={airTicksTop} interval={0} allowDataOverflow
          tickSize={4} tickMargin={9} tickLine={{ stroke: AXIS }} axisLine={{ stroke: AXIS, strokeWidth: 1.4 }} tick={tickStyle} />
        {series.map((s, i) => (
          <Line key={topNames[i]} name={topNames[i]} yAxisId={axes[i]} data={rows(s)} dataKey="v" type="linear"
            stroke={topColors[i]} strokeWidth={2.6} dot={false} activeDot={false} isAnimationActive={false} />
        ))}
      </LineChart>
    </div>
  );
}

function BottomChart({ plot, domain, series }: { plot: Rect; domain: [number, number]; series: Pt[][] }) {
  const ml = 80, mr = 60, mt = 10;
  const width = plot.x1 - plot.x0 + ml + mr;
  const height = plot.y1 - plot.y0 + mt + 10;
  const tickStyle = { fontSize: 17, fontFamily: CAL, fill: TXT };
  return (
    <div style={{ position: 'absolute', left: plot.x0 - ml, top: plot.y0 - mt }}>
      <LineChart width={width} height={height} margin={{ top: mt, right: 0, bottom: 10, left: 0 }}>
        <CartesianGrid yAxisId="g" vertical={false} stroke={GRID} strokeWidth={1.4} />
        <XAxis dataKey="d" type="number" domain={domain} allowDataOverflow hide height={0} />
        <YAxis yAxisId="g" orientation="left" width={ml} domain={[-10, 10]} ticks={groundTicks} interval={0} allowDataOverflow
          tickLine={false} tickSize={0} tickMargin={20} axisLine={{ stroke: AXIS, strokeWidth: 1.4 }} tick={tickStyle} />
        <YAxis yAxisId="a" orientation="right" width={mr} domain={[-45, 45]} ticks={airTicksBottom} interval={0} allowDataOverflow
          tickSize={4} tickMargin={13} tickLine={{ stroke: AXIS }} axisLine={{ stroke: AXIS, strokeWidth: 1.4 }} tick={tickStyle} />
        {series.map((s, i) => (
          <Line key={bottomNames[i]} name={bottomNames[i]} yAxisId={i === 5 ? 'a' : 'g'} data={rows(s)} dataKey="v" type="linear"
            stroke={bottomColors[i]} strokeWidth={2.3} dot={false} activeDot={false} isAnimationActive={false} />
        ))}
        {bottomDayTicks.map((t) => (
          <ReferenceDot key={t} x={t} y={0} yAxisId="g" r={0} fill="none" stroke="none" ifOverflow="visible"
            label={{ value: String(t), position: 'bottom', offset: 20, fill: TXT, fontSize: 17, fontFamily: CAL }} />
        ))}
      </LineChart>
    </div>
  );
}

const plotTL: Rect = { x0: 94.3, y0: 92.6, x1: 699.4, y1: 531.6 };
const plotTR: Rect = { x0: 934, y0: 92.7, x1: 1539, y1: 532 };
const plotBL: Rect = { x0: 111.4, y0: 659.3, x1: 672, y1: 1100.5 };
const plotBR: Rect = { x0: 948.3, y0: 659.3, x1: 1510, y1: 1100.5 };

export default function App() {
  const frame = '1.5px solid #c9c9c9';
  const topTitleStyle: React.CSSProperties = { fontFamily: SERIF, fontSize: 20.4, color: '#111' };
  const bottomTitleStyle: React.CSSProperties = { fontFamily: CAL, fontSize: 23.2, fontWeight: 700, color: '#111' };
  const topAxisStyle: React.CSSProperties = { fontFamily: ARIAL, fontSize: 14.2, fontWeight: 700, color: '#111' };
  const bottomAxisStyle: React.CSSProperties = { fontFamily: CAL, fontSize: 18, fontWeight: 700, color: '#111' };
  const topLegendStyle: React.CSSProperties = { fontFamily: NARROW, fontSize: 15, color: TXT };
  const bottomLegendStyle: React.CSSProperties = { fontFamily: CAL, fontSize: 18, color: TXT };
  const topLegendY = [301.4, 324.3, 346.8];
  const bottomLegendY = [801, 833, 864.6, 896, 928, 960];
  return (
    <div style={{ position: 'absolute', left: 0, top: 0, width: 1684, height: 1112, overflow: 'hidden', background: '#fff' }}>
      <div style={{ position: 'absolute', left: 23, top: 21, width: 833, height: 549, borderLeft: frame, borderTop: frame, borderRight: frame, borderBottom: frame, boxSizing: 'border-box' }} />
      <div style={{ position: 'absolute', left: 862, top: 21, width: 900, height: 549, borderLeft: frame, borderTop: frame, borderBottom: frame, boxSizing: 'border-box' }} />
      <div style={{ position: 'absolute', left: 862, top: 569, width: 900, height: 600, borderLeft: frame, borderTop: frame, boxSizing: 'border-box' }} />

      <Title cx={443} y={31} lines={titleTL} style={topTitleStyle} lh={23.5} />
      <Title cx={1283} y={31} lines={titleTR} style={topTitleStyle} lh={23.5} />
      <RotText cx={50.5} cy={313} text={topAxisTitle} style={topAxisStyle} />
      <RotText cx={890} cy={313} text={topAxisTitle} style={topAxisStyle} />

      <TopChart plot={plotTL} domain={[0.5, 244.5]} snow={snow0708} depth={depth0708} temp={temp0708} />
      <TopChart plot={plotTR} domain={[0.5, 243.5]} snow={snow0910} depth={depth0910} temp={temp0910} />
      <HtmlLegend x={743} ys={topLegendY} names={topNames} colors={topColors} lineLen={23} thick={3} style={topLegendStyle} />
      <HtmlLegend x={1583} ys={topLegendY} names={topNames} colors={topColors} lineLen={23} thick={3} style={topLegendStyle} />

      <Title cx={441} y={580} lines={titleBL} style={bottomTitleStyle} lh={29} />
      <Title cx={1279} y={580} lines={titleBR} style={bottomTitleStyle} lh={29} />
      <RotText cx={50} cy={880} text={groundAxisTitle} style={bottomAxisStyle} />
      <RotText cx={740} cy={880} text={airAxisTitle} style={bottomAxisStyle} />
      <RotText cx={889} cy={880} text={groundAxisTitle} style={bottomAxisStyle} />
      <RotText cx={1575} cy={880} text={airAxisTitle} style={bottomAxisStyle} />

      <BottomChart plot={plotBL} domain={[1.2, 244.9]} series={[g20_0708, g40_0708, g80_0708, g160_0708, g320_0708, air0708]} />
      <BottomChart plot={plotBR} domain={[0.4, 244.2]} series={[g20_0910, g40_0910, g80_0910, g160_0910, g320_0910, air0910]} />
      <HtmlLegend x={765} ys={bottomLegendY} names={bottomNames} colors={bottomColors} lineLen={22} thick={2.5} style={bottomLegendStyle} />
      <HtmlLegend x={1604} ys={bottomLegendY} names={bottomNames} colors={bottomColors} lineLen={21} thick={2.5} style={bottomLegendStyle} />
    </div>
  );
}
